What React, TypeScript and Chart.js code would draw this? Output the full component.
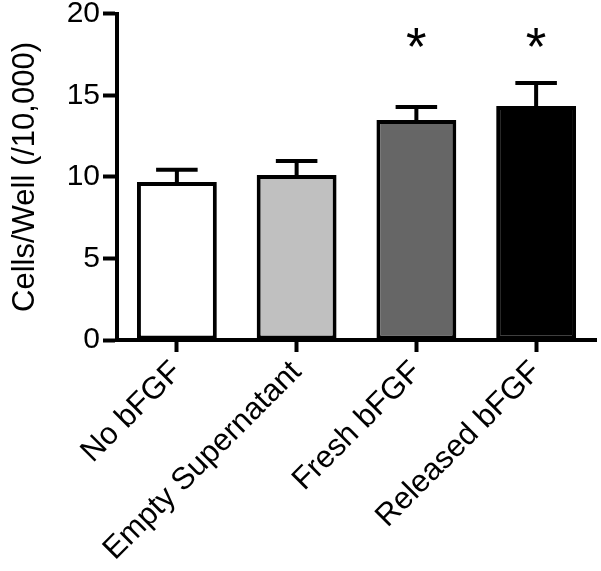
import React, { useEffect, useRef } from "react";
import { Chart, registerables } from "chart.js";

Chart.register(...registerables);

const categories = ["No bFGF", "Empty Supernatant", "Fresh bFGF", "Released bFGF"];
const means = [9.7, 10.12, 13.5, 14.36];
const errors = [0.74, 0.86, 0.8, 1.41];
const significance = ["", "", "*", "*"];
const barColors = ["#ffffff", "#c0c0c0", "#666666", "#000000"];
const yTicks = [0, 5, 10, 15, 20];
const yTitle = "Cells/Well (/10,000)";
const starLevel = 18.56;

const FONT = "'Liberation Sans', Arial, Helvetica, sans-serif";

const errorBarPlugin = {
  id: "errorBarsAndStars",
  afterDatasetsDraw(chart: any) {
    const ctx = chart.ctx;
    const meta = chart.getDatasetMeta(0);
    const yScale = chart.scales.y;
    ctx.save();
    ctx.strokeStyle = "#000";
    ctx.lineWidth = 4;
    ctx.lineCap = "butt";
    meta.data.forEach((bar: any, i: number) => {
      const x = bar.x;
      const base = yScale.getPixelForValue(means[i]);
      const top = yScale.getPixelForValue(means[i] + errors[i]);
      const half = bar.width * 0.26;
      ctx.beginPath();
      ctx.moveTo(x, base);
      ctx.lineTo(x, top);
      ctx.moveTo(x - half, top);
      ctx.lineTo(x + half, top);
      ctx.stroke();
      if (significance[i]) {
        ctx.font = `100px ${FONT}`;
        const m = ctx.measureText(significance[i]);
        const h100 = m.actualBoundingBoxAscent + m.actualBoundingBoxDescent;
        const size = (100 * 19) / h100;
        ctx.font = `${size}px ${FONT}`;
        const m2 = ctx.measureText(significance[i]);
        const cy = yScale.getPixelForValue(starLevel);
        const baseline = cy + (m2.actualBoundingBoxAscent - m2.actualBoundingBoxDescent) / 2;
        ctx.fillStyle = "#000";
        ctx.textAlign = "center";
        ctx.textBaseline = "alphabetic";
        ctx.fillText(significance[i], x, baseline);
      }
    });
    ctx.restore();
  },
};

export default function App() {
  const ref = useRef<HTMLCanvasElement | null>(null);
  useEffect(() => {
    if (!ref.current) return;
    const chart = new Chart(ref.current, {
      type: "bar",
      data: {
        labels: categories,
        datasets: [
          {
            data: means,
            backgroundColor: barColors,
            borderColor: "#000",
            borderWidth: 4,
            borderSkipped: false,
            barPercentage: 0.667,
            categoryPercentage: 1,
          },
        ],
      },
      options: {
        animation: false,
        responsive: false,
        devicePixelRatio: 1,
        layout: { padding: { top: 0, right: 5, left: 0, bottom: 0 } },
        plugins: { legend: { display: false }, tooltip: { enabled: false } },
        scales: {
          y: {
            min: 0,
            max: 20,
            afterBuildTicks: (s: any) => {
              s.ticks = yTicks.map((v) => ({ value: v }));
            },
            afterFit: (s: any) => {
              s.width = 117;
            },
            ticks: { font: { family: FONT, size: 30, lineHeight: 0.733 }, color: "#000", padding: 3 },
            grid: { drawOnChartArea: false, tickLength: 14, tickWidth: 4, tickColor: "#000" },
            border: { display: true, width: 4, color: "#000" },
            title: {
              display: true,
              text: yTitle,
              color: "#000",
              font: { family: FONT, size: 31 },
              padding: { top: 7, bottom: 0 },
            },
          },
          x: {
            offset: true,
            afterFit: (s: any) => {
              s.height = 231;
            },
            ticks: {
              font: { family: FONT, size: 31 },
              color: "#000",
              minRotation: 45,
              maxRotation: 45,
              autoSkip: false,
              padding: 2,
            },
            grid: { drawOnChartArea: false, offset: false, tickLength: 12, tickWidth: 4, tickColor: "#000" },
            border: { display: true, width: 4, color: "#000" },
          },
        },
      },
      plugins: [errorBarPlugin],
    });
    return () => chart.destroy();
  }, []);
  return (
    <div style={{ position: "absolute", left: 0, top: 0, width: 601, height: 571, background: "#fff" }}>
      <canvas ref={ref} width={601} height={571} />
    </div>
  );
}
